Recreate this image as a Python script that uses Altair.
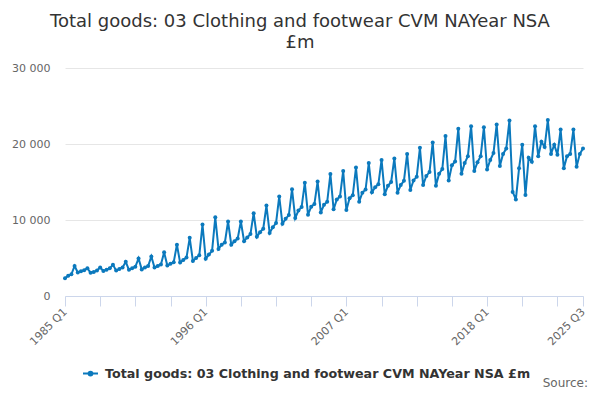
import altair as alt
import pandas as pd

years = list(range(1985, 2026))
q1 = [2350, 3100, 3050, 3300, 3350, 3450, 3500, 3750, 4000, 4400,
      4600, 4900, 6200, 6750, 7200, 7800, 8300, 9500, 10250, 10700,
      11000, 11400, 11300, 12400, 13650, 13400, 13600, 13950, 14600, 14500,
      15200, 16100, 16450, 16650, 17100, 13700, 13300, 18400, 18700, 16800,
      17000]
q2 = [2650, 3250, 3150, 3450, 3550, 3650, 3750, 3950, 4250, 4750,
      5000, 5450, 6750, 7200, 7700, 8400, 9050, 10150, 11250, 11750,
      12000, 12700, 12850, 13600, 14300, 14500, 14600, 15200, 15800, 16100,
      17200, 17500, 17600, 17900, 18700, 12700, 18200, 20300, 19900, 18400,
      18700]
q3 = [2850, 3400, 3350, 3650, 3750, 3850, 3950, 4150, 4450, 5050,
      5350, 5950, 7050, 7550, 8150, 8850, 9600, 10650, 11700, 12100,
      12400, 13100, 13250, 14000, 14700, 15000, 15150, 15700, 16300, 16700,
      17700, 18400, 18400, 18800, 19400, 16800, 17650, 19600, 18600, 18700,
      19400]
q4 = [3950, 3650, 3750, 4100, 4500, 4950, 5200, 5750, 6750, 7650,
      9400, 10350, 9800, 9800, 10900, 11900, 13100, 14050, 14900, 15050,
      16050, 16450, 16900, 17500, 17900, 18100, 18700, 19500, 20200, 21050,
      22000, 22350, 22200, 22550, 23100, 19900, 22350, 23150, 21900, 21900]

series_name = "Total goods: 03 Clothing and footwear CVM NAYear NSA £m"
title_lines = ["Total goods: 03 Clothing and footwear CVM NAYear NSA", "£m"]
labelled_ticks = ["1985 Q1", "1996 Q1", "2007 Q1", "2018 Q1", "2025 Q3"]
y_ticks = [0, 10000, 20000, 30000]
source_text = "Source:"

rows = []
for i, yr in enumerate(years):
    for q, arr in enumerate([q1, q2, q3, q4]):
        if i < len(arr):
            rows.append({"quarter": f"{yr} Q{q + 1}", "value": arr[i], "series": series_name})
df = pd.DataFrame(rows)
order = list(df["quarter"])
tick_values = order[::11] + [order[-1]]
if tick_values[-2] == tick_values[-1]:
    tick_values = tick_values[:-1]

color = "#0b79bd"
font = "DejaVu Sans"
label_list = "[" + ",".join(f"'{t}'" for t in labelled_ticks) + "]"

x_enc = alt.X(
    "quarter:O",
    sort=order,
    scale=alt.Scale(type="point", padding=0),
    axis=alt.Axis(
        title=None,
        values=tick_values,
        labelExpr=f"indexof({label_list}, datum.label) >= 0 ? datum.label : ''",
        labelAngle=-45,
        labelAlign="right",
        labelBaseline="middle",
        labelOverlap=False,
        labelBound=False,
        labelFlush=False,
        labelColor="#666666",
        labelFontSize=11,
        labelFont=font,
        labelPadding=4,
        domainColor="#ccd6eb",
        tickColor="#ccd6eb",
        tickSize=10,
        grid=False,
    ),
)
y_enc = alt.Y(
    "value:Q",
    scale=alt.Scale(domain=[0, 30000], nice=False),
    axis=alt.Axis(
        title=None,
        values=y_ticks,
        labelExpr="replace(format(datum.value, ','), ',', ' ')",
        labelColor="#666666",
        labelFontSize=11,
        labelFont=font,
        labelPadding=15,
        domain=False,
        ticks=False,
        gridColor="#e6e6e6",
    ),
)
color_enc = alt.Color(
    "series:N",
    scale=alt.Scale(range=[color]),
    legend=alt.Legend(
        title=None,
        orient="none",
        legendX=17,
        legendY=297,
        labelFont=font,
        labelFontSize=12.7,
        labelFontWeight="bold",
        labelColor="#333333",
        labelLimit=0,
        symbolType="M-1,0L1,0M-0.25,0A0.25,0.25 0 1,0 0.25,0A0.25,0.25 0 1,0 -0.25,0",
        symbolSize=225,
        symbolStrokeWidth=2,
        symbolStrokeColor=color,
        symbolFillColor=color,
        labelOffset=6,
    ),
)

base = alt.Chart(df).encode(x=x_enc, y=y_enc, color=color_enc)
line = base.mark_line(strokeWidth=2)
pts = base.mark_circle(size=16, opacity=1)

source = alt.Chart(pd.DataFrame({"t": [source_text]})).mark_text(
    align="right", baseline="alphabetic", font=font, fontSize=12, color="#666666"
).encode(text="t:N", x=alt.value(523), y=alt.value(319))

chart = alt.layer(line, pts, source).properties(
    width=518,
    height=228,
    padding={"left": 57, "top": 60, "right": 9, "bottom": 96},
    autosize=alt.AutoSizeParams(type="none"),
    title=alt.TitleParams(
        text=title_lines,
        font=font,
        fontSize=18,
        fontWeight="normal",
        color="#333333",
        anchor="middle",
        frame="group",
        dx=-24,
        offset=10,
        lineHeight=21,
    ),
).configure_view(stroke=None)

chart.save("out.html", embed_options={"renderer": "svg", "actions": False})
